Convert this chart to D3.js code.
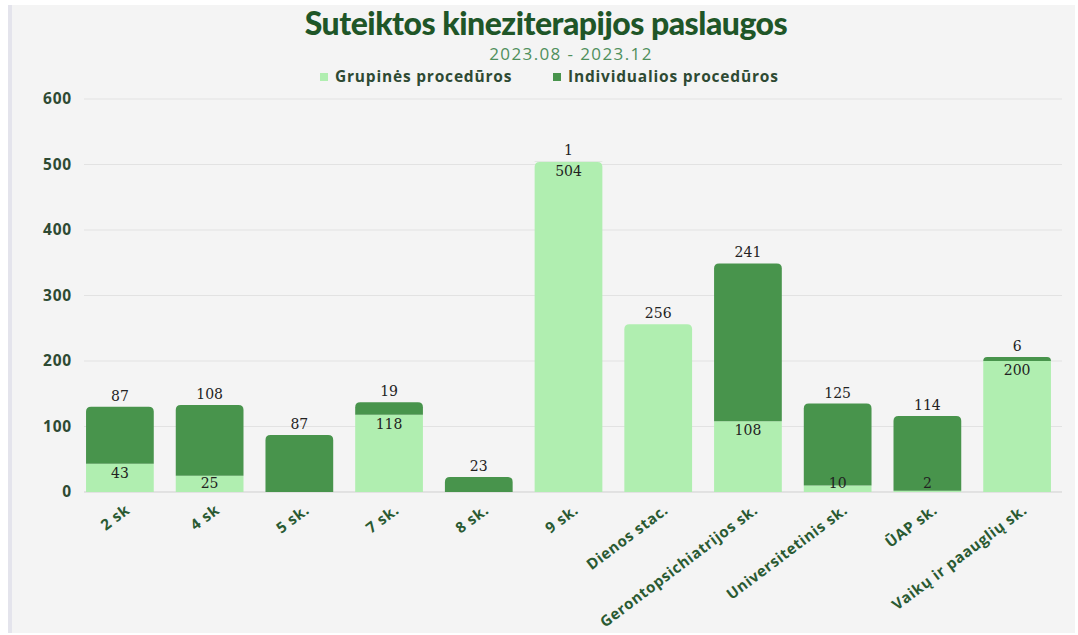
<!DOCTYPE html>
<html>
<head>
<meta charset="utf-8">
<title>Suteiktos kineziterapijos paslaugos</title>
<script src="https://d3js.org/d3.v7.min.js"></script>
<style>
  body { margin: 0; background: #fff; }
</style>
</head>
<body>
<div id="chart"></div>
<script>
// data
var categories = ["2 sk", "4 sk", "5 sk.", "7 sk.", "8 sk.", "9 sk.", "Dienos stac.",
  "Gerontopsichiatrijos sk.", "Universitetinis sk.", "ŪAP sk.", "Vaikų ir paauglių sk."];
var grupines = [43, 25, 0, 118, 0, 504, 256, 108, 10, 2, 200];
var individualios = [87, 108, 87, 19, 23, 1, 0, 241, 125, 114, 6];
var seriesNames = ["Grupinės procedūros", "Individualios procedūros"];
var yTicks = [0, 100, 200, 300, 400, 500, 600];

var W = 1078, H = 635;
var light = "#b0eeb0", dark = "#48944c";
var textGreen = "#2e4a33";

var svg = d3.select("#chart").append("svg")
  .attr("width", W).attr("height", H);

// panel
svg.append("rect").attr("x", 8).attr("y", 5).attr("width", 1067).attr("height", 628)
  .attr("fill", "#f4f4f4");
svg.append("rect").attr("x", 8).attr("y", 5).attr("width", 4).attr("height", 628)
  .attr("fill", "#e4e4ec");

var x = d3.scaleBand().domain(categories).range([75, 1062]).paddingInner(0.245).paddingOuter(0.123);
var y = d3.scaleLinear().domain([0, 600]).range([492, 99]);

// grid
svg.append("g").selectAll("line").data(yTicks).join("line")
  .attr("x1", 84).attr("x2", 1062)
  .attr("y1", d => y(d)).attr("y2", d => y(d))
  .attr("stroke", d => d === 0 ? "#cfcfcf" : "#e2e2e2").attr("stroke-width", 1);

// y axis
var yAxis = svg.append("g").attr("transform", "translate(72,0)")
  .call(d3.axisLeft(y).tickValues(yTicks).tickSize(0).tickPadding(0));
yAxis.select(".domain").remove();
yAxis.selectAll("text")
  .attr("font-family", "Open Sans").attr("font-weight", 700).attr("font-size", 15.5)
  .attr("letter-spacing", 0.8)
  .attr("fill", textGreen);

// stacked bars
var rows = categories.map((c, i) => ({cat: c, g: grupines[i], ind: individualios[i]}));
var r = 5;
function barPath(x0, w, yTop, yBot, rounded) {
  if (!rounded || yBot - yTop < 0.5) {
    return "M" + x0 + "," + yBot + "V" + yTop + "H" + (x0 + w) + "V" + yBot + "Z";
  }
  var rr = Math.min(r, yBot - yTop);
  return "M" + x0 + "," + yBot + "V" + (yTop + rr) +
    "Q" + x0 + "," + yTop + " " + (x0 + rr) + "," + yTop +
    "H" + (x0 + w - rr) +
    "Q" + (x0 + w) + "," + yTop + " " + (x0 + w) + "," + (yTop + rr) +
    "V" + yBot + "Z";
}

var bars = svg.append("g");
rows.forEach(function(d) {
  var x0 = x(d.cat), w = x.bandwidth();
  if (d.g > 0) {
    bars.append("path").attr("fill", light)
      .attr("d", barPath(x0, w, y(d.g), y(0), d.ind < 2));
  }
  if (d.ind > 0) {
    bars.append("path").attr("fill", dark).attr("opacity", d.ind < 2 ? 0.15 : 1)
      .attr("d", barPath(x0, w, y(d.g + d.ind), y(d.g), d.ind >= 2));
  }
});

// labels
var lbl = svg.append("g").attr("font-family", "DejaVu Serif").attr("font-size", 14)
  .attr("text-anchor", "middle").attr("fill", "#222");
rows.forEach(function(d) {
  var cx = x(d.cat) + x.bandwidth() / 2;
  if (d.ind > 0) {
    lbl.append("text").attr("x", cx).attr("y", y(d.g + d.ind) - 6).text(d.ind);
  }
  if (d.g > 0) {
    if (d.ind > 0) {
      lbl.append("text").attr("x", cx).attr("y", Math.min(y(d.g) + 14, y(0) - 4)).text(d.g);
    } else {
      lbl.append("text").attr("x", cx).attr("y", y(d.g) - 6).text(d.g);
    }
  }
});

// x axis labels
var xl = svg.append("g");
categories.forEach(function(c) {
  var cx = x(c) + x.bandwidth() / 2 + 11;
  xl.append("text")
    .attr("transform", "translate(" + cx + ",512) rotate(-37)")
    .attr("text-anchor", "end")
    .attr("font-family", "Open Sans").attr("font-weight", 700).attr("font-size", 15)
    .attr("letter-spacing", 0.6)
    .attr("fill", "#2a5a32").text(c);
});

// title
svg.append("text").attr("x", 546).attr("y", 35).attr("text-anchor", "middle")
  .attr("font-family", "Lato").attr("font-weight", 900).attr("font-size", 32)
  .attr("letter-spacing", -0.5)
  .attr("fill", "#1f5628").text("Suteiktos kineziterapijos paslaugos");
svg.append("text").attr("x", 571).attr("y", 60).attr("text-anchor", "middle")
  .attr("font-family", "Open Sans").attr("font-weight", 400).attr("font-size", 17)
  .attr("letter-spacing", 1.4)
  .attr("fill", "#4f8f5c").text("2023.08 - 2023.12");

// legend
var legend = svg.append("g").attr("font-family", "Open Sans").attr("font-weight", 700)
  .attr("font-size", 15.5).attr("letter-spacing", 0.8).attr("fill", textGreen);
var legX = [320, 553];
seriesNames.forEach(function(n, i) {
  legend.append("rect").attr("x", legX[i]).attr("y", 73).attr("width", 8).attr("height", 8)
    .attr("fill", i === 0 ? light : dark);
  legend.append("text").attr("x", legX[i] + 15).attr("y", 82).text(n);
});
</script>
</body>
</html>
